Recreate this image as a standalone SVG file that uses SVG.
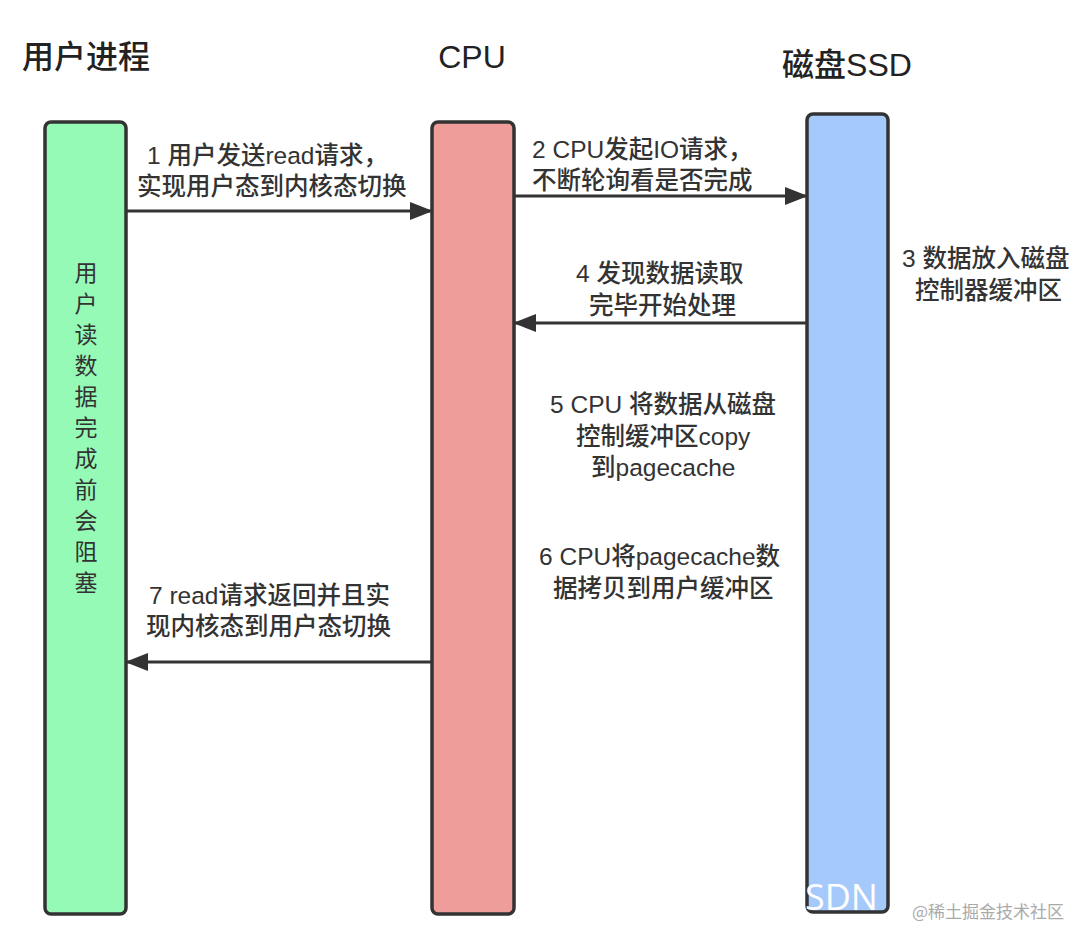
<svg xmlns="http://www.w3.org/2000/svg" width="1080" height="927" viewBox="0 0 1080 927">
<style>
.bar{stroke:#333;stroke-width:3.5}
.t{font-family:"Liberation Sans","Noto Sans CJK SC",sans-serif;font-size:24.5px;fill:#333;font-weight:500}
.v{font-family:"Noto Sans CJK SC",sans-serif;font-size:23px;fill:#333}
.h{font-family:"Liberation Sans","Noto Sans CJK SC",sans-serif;font-size:32px;fill:#222;font-weight:500}
.ln{stroke:#333;stroke-width:3;fill:none}
</style>
<defs>
<marker id="ah" markerWidth="24" markerHeight="20" refX="22" refY="10" orient="auto" markerUnits="userSpaceOnUse">
<path d="M0,1 L23,10 L0,19 Z" fill="#333"/>
</marker>
</defs>
<rect width="1080" height="927" fill="#fff"/>
<g id="head-user"><text class="h" x="22" y="68">用户进程</text></g>
<g id="head-cpu"><text class="h" x="472" y="68" text-anchor="middle">CPU</text></g>
<g id="head-ssd"><text class="h" x="847" y="76" text-anchor="middle">磁盘SSD</text></g>

<g id="user">
<rect class="bar" x="45" y="122" width="81" height="792" rx="6" fill="#96FAB7"/>
<text class="v" text-anchor="middle">
<tspan x="86" y="281">用</tspan><tspan x="86" y="312">户</tspan><tspan x="86" y="343">读</tspan><tspan x="86" y="374">数</tspan><tspan x="86" y="405">据</tspan><tspan x="86" y="436">完</tspan><tspan x="86" y="467">成</tspan><tspan x="86" y="498">前</tspan><tspan x="86" y="529">会</tspan><tspan x="86" y="560">阻</tspan><tspan x="86" y="591">塞</tspan>
</text>
</g>
<g id="cpu"><rect class="bar" x="432" y="122" width="82" height="792" rx="6" fill="#EF9D9A"/></g>
<g id="ssd"><rect class="bar" x="807" y="114" width="81" height="798" rx="6" fill="#A5C9FB"/></g>

<g id="connectors">
<line class="ln" x1="126" y1="211" x2="432" y2="211" marker-end="url(#ah)"/>
<line class="ln" x1="514" y1="196" x2="807" y2="196" marker-end="url(#ah)"/>
<line class="ln" x1="807" y1="323" x2="514" y2="323" marker-end="url(#ah)"/>
<line class="ln" x1="432" y1="662" x2="126" y2="662" marker-end="url(#ah)"/>
</g>

<g id="labels">
<text class="t"><tspan x="147" y="164">1 用户发送read请求，</tspan><tspan x="137" y="195">实现用户态到内核态切换</tspan></text>
<text class="t"><tspan x="532" y="158">2 CPU发起IO请求，</tspan><tspan x="532" y="189">不断轮询看是否完成</tspan></text>
<text class="t"><tspan x="902" y="267">3 数据放入磁盘</tspan><tspan x="915" y="299">控制器缓冲区</tspan></text>
<text class="t"><tspan x="576" y="282">4 发现数据读取</tspan><tspan x="589" y="314">完毕开始处理</tspan></text>
<text class="t"><tspan x="550" y="413">5 CPU 将数据从磁盘</tspan><tspan x="576" y="445">控制缓冲区copy</tspan><tspan x="591" y="476">到pagecache</tspan></text>
<text class="t"><tspan x="539" y="565">6 CPU将pagecache数</tspan><tspan x="553" y="597">据拷贝到用户缓冲区</tspan></text>
<text class="t"><tspan x="149" y="604">7 read请求返回并且实</tspan><tspan x="146" y="635">现内核态到用户态切换</tspan></text>
</g>

<g id="watermark">
<text x="805" y="910" font-family="Open Sans,sans-serif" font-size="36" fill="#fff">SDN</text>
<text x="912" y="918" font-family="Noto Sans CJK SC,serif" font-size="17" fill="#aaa">@稀土掘金技术社区</text>
</g>
</svg>
